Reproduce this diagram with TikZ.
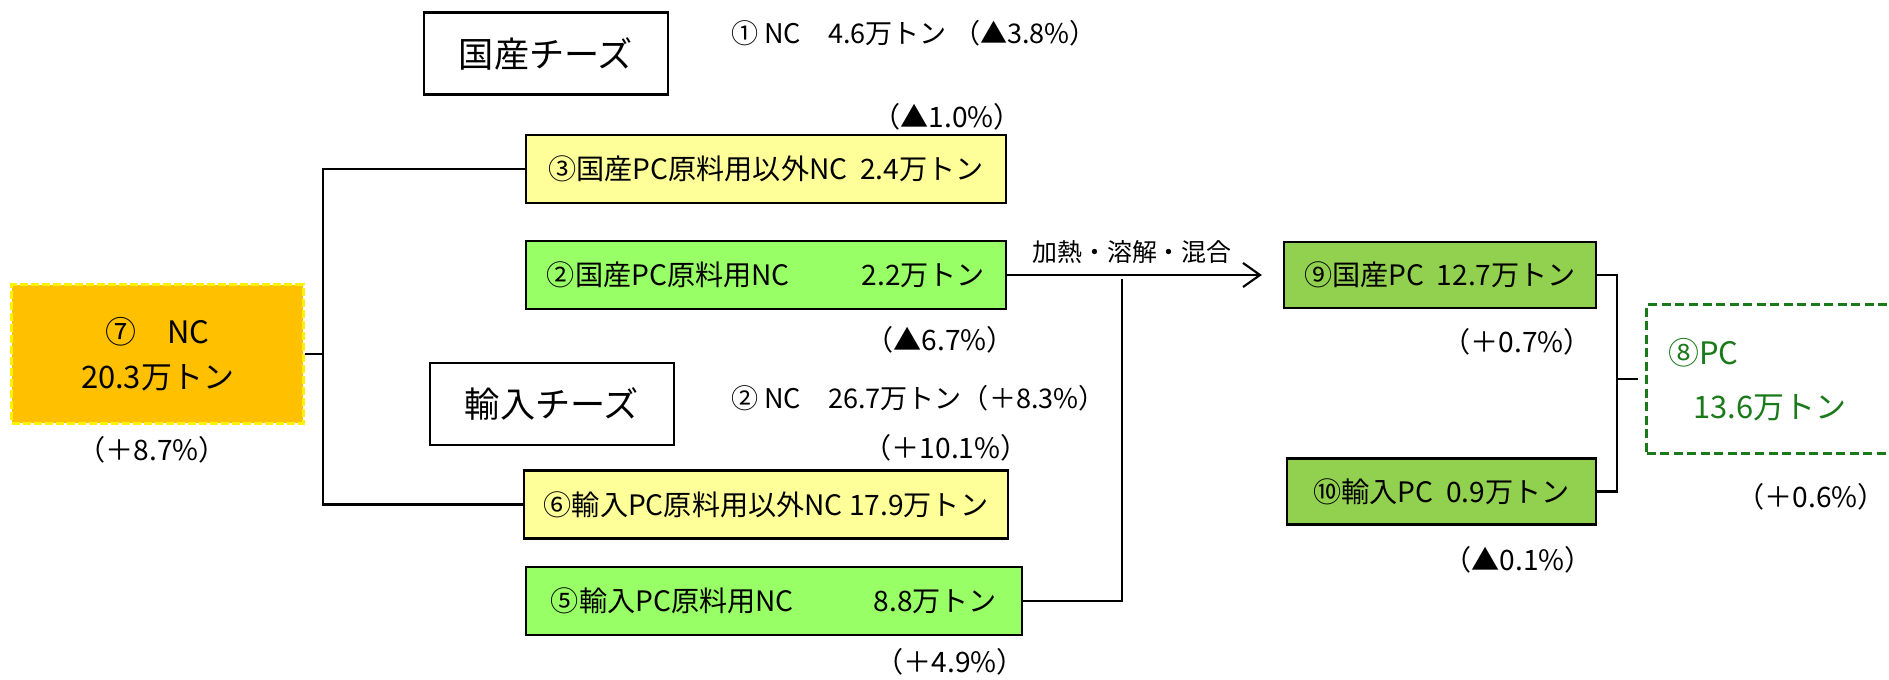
\documentclass[tikz,border=0pt]{standalone}
\usepackage{fontspec}
\setmainfont{Noto Sans CJK JP}
\usetikzlibrary{arrows.meta}
\definecolor{orangebox}{HTML}{FFC000}
\definecolor{paleyellow}{HTML}{FFFF99}
\definecolor{brightgreen}{HTML}{99FF66}
\definecolor{pcgreen}{HTML}{92D050}
\definecolor{darkgreen}{HTML}{1A7A1A}

\begin{document}
\begin{tikzpicture}[x=.01cm, y=-.01cm, line width=.6pt,
	flow/.style={draw, inner sep=0pt, font=\fontsize{8}{10}\selectfont},
	cheese/.style={flow, fill=white, minimum width=2.44cm, minimum height=.82cm, font=\fontsize{10}{12}\selectfont},
	nonpc/.style={flow, fill=paleyellow, minimum height=.68cm},
	pcraw/.style={flow, fill=brightgreen, minimum height=.68cm},
	pcbox/.style={flow, fill=pcgreen, minimum height=.66cm},
	rate/.style={inner sep=0pt, font=\fontsize{8}{10}\selectfont},
	total/.style={inner sep=0pt, anchor=west, font=\fontsize{7.7}{9}\selectfont}]
	\useasboundingbox (0,0) rectangle (1889,680);
	\clip (0,0) rectangle (1889,680);
	\coordinate (lbus) at (323,0);
	\coordinate (rbus) at (1617,0);
	\coordinate (mix) at (1122,279);

	\node[flow, fill=orangebox, draw=yellow, line width=.85pt, dash pattern=on .08cm off .03cm,
		minimum width=2.91cm, minimum height=1.38cm, align=center,
		font=\fontsize{8.8}{12.8}\selectfont] (nc7) at (157.5,354) {⑦\quad NC\\20.3万トン};
	\node[rate] (r7) at (152,450) {（＋8.7\%）};

	\node[cheese] (dom) at (546,53.5) {国産チーズ};
	\node[total] (domtot) at (730,33) {① NC　4.6万トン （▲3.8\%）};
	\node[rate] (r3) at (947,117) {（▲1.0\%）};
	\node[nonpc, minimum width=4.8cm] (n3) at (766,169) {③国産PC原料用以外NC\ \ 2.4万トン};
	\node[pcraw, minimum width=4.8cm, text width=4.38cm] (n2) at (766,275) {②国産PC原料用NC\hfill 2.2万トン};
	\node[rate] (r2) at (940,340) {（▲6.7\%）};

	\node[cheese] (imp) at (552,404) {輸入チーズ};
	\node[total] (imptot) at (730,398) {② NC　26.7万トン（＋8.3\%）};
	\node[rate] (r6) at (946,448) {（＋10.1\%）};
	\node[nonpc, minimum width=4.84cm] (n6) at (766,504.5) {⑥輸入PC原料用以外NC 17.9万トン};
	\node[pcraw, minimum width=4.96cm, text width=4.46cm] (n5) at (774,601) {⑤輸入PC原料用NC\hfill 8.8万トン};
	\node[rate] (r5) at (950,662) {（＋4.9\%）};

	\node[pcbox, minimum width=3.12cm] (n9) at (1440,275) {⑨国産PC\ \ 12.7万トン};
	\node[rate] (r9) at (1517,342) {（＋0.7\%）};
	\node[pcbox, minimum width=3.09cm] (n10) at (1441.5,491.5) {⑩輸入PC\ \ 0.9万トン};
	\node[rate] (r10) at (1518,560) {（▲0.1\%）};

	\node[draw=darkgreen, line width=.85pt, dash pattern=on .09cm off .045cm, inner sep=0pt,
		minimum width=3.43cm, minimum height=1.48cm] (pc) at (1818.5,379) {};
	\node[anchor=west, inner sep=0pt, text=darkgreen, font=\fontsize{8.8}{11}\selectfont] (pcname) at (1667,353) {⑧PC};
	\node[anchor=west, inner sep=0pt, text=darkgreen, font=\fontsize{8.8}{11}\selectfont] (pcamount) at (1692,408) {13.6万トン};
	\node[rate, anchor=east] (r8) at (1887,497) {（＋0.6\%）};

	\draw (n3.west) -- (n3.west -| lbus) -- (n6.west -| lbus) -- (n6.west);
	\draw (nc7.east) -- (nc7.east -| lbus);
	\draw[-{Straight Barb[length=.17cm, width=.24cm]}, shorten >=.21cm] (n2.east) -- (n9.west);
	\node[inner sep=0pt, font=\fontsize{7.1}{9}\selectfont] (heat) at (1132,252) {加熱・溶解・混合};
	\draw (n5.east) -| (mix);
	\draw (n9.east) -- (n9.east -| rbus) -- (n10.east -| rbus) -- (n10.east);
	\draw[shorten >=.07cm] (pc.west -| rbus) -- (pc.west);
\end{tikzpicture}
\end{document}
